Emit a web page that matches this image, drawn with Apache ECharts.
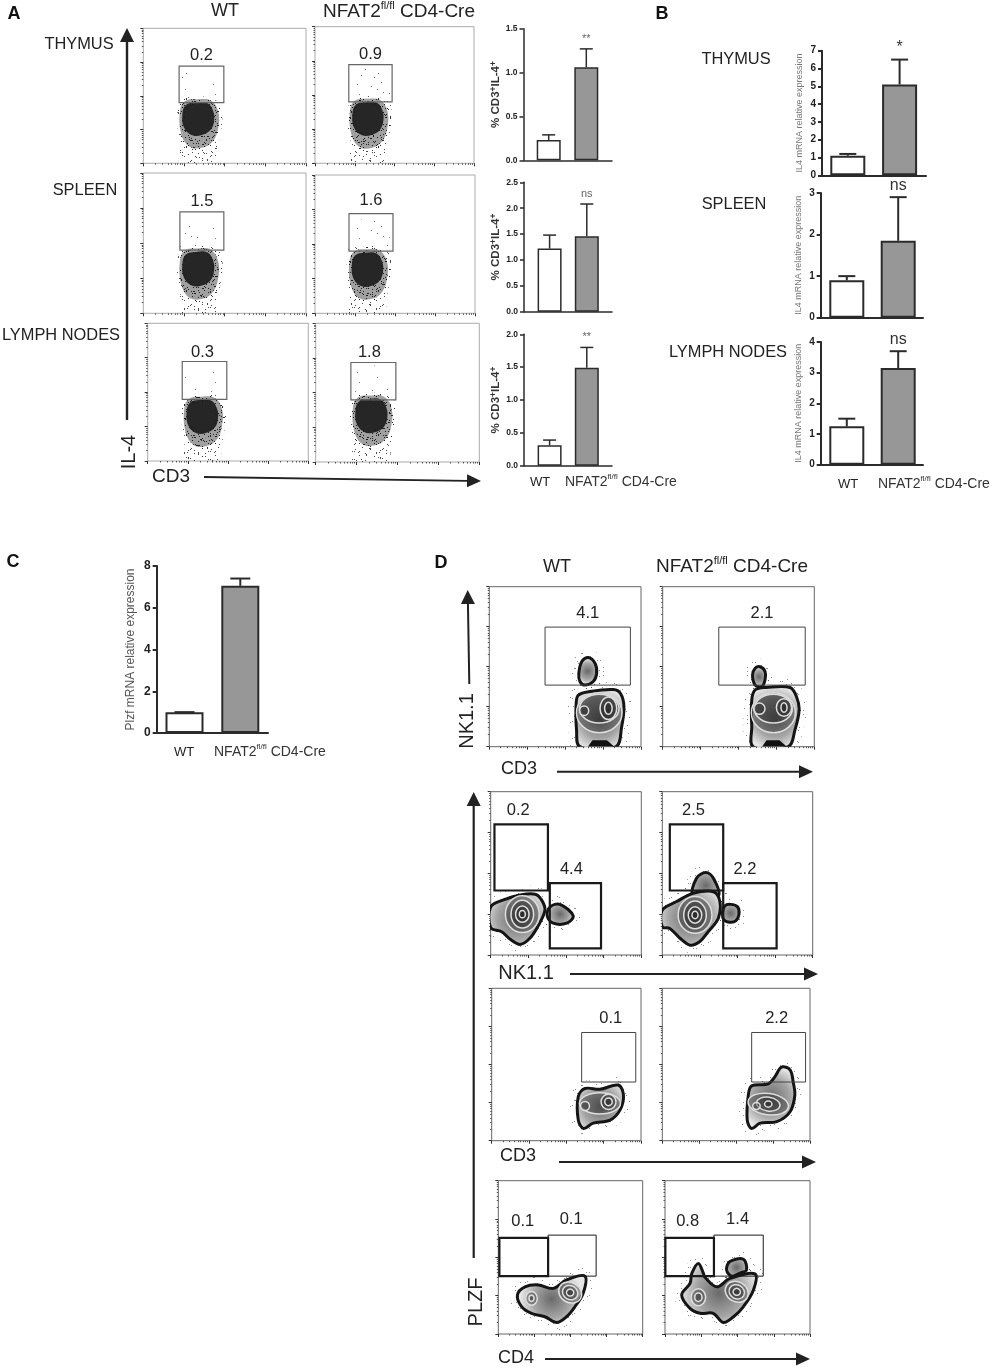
<!DOCTYPE html>
<html>
<head>
<meta charset="utf-8">
<title>NFAT2 figure</title>
<script src="https://cdn.jsdelivr.net/npm/echarts@6/dist/echarts.min.js"></script>
<style>
  html, body { margin: 0; padding: 0; background: #fff; }
  #main { width: 992px; height: 1369px; }
</style>
</head>
<body>
<div id="main"></div>
<script>
// ---------- bar chart values (WT, NFAT2 fl/fl CD4-Cre) ----------
const cd3Il4Thymus = [0.23, 1.06]
const cd3Il4ThymusTop = [0.29, 1.27]
const cd3Il4Spleen = [1.22, 1.46]
const cd3Il4SpleenTop = [1.48, 2.08]
const cd3Il4Nodes = [0.31, 1.49]
const cd3Il4NodesTop = [0.39, 1.80]
const il4Thymus = [1.1, 5.1]
const il4ThymusTop = [1.2, 6.5]
const il4Spleen = [0.9, 1.85]
const il4SpleenTop = [1.0, 2.9]
const il4Nodes = [1.25, 3.15]
const il4NodesTop = [1.5, 3.7]
const plzf = [1.0, 7.05]
const plzfTop = [1.0, 7.4]
const sigA = ['**', 'ns', '**']
const sigB = ['*', 'ns', 'ns']

// ---------- flow plots, panel A: all values in log decades (0-4) ----------
const gatesA = [
  [0.88, 1.98, 1.80, 2.88], [0.85, 1.94, 1.80, 2.89],
  [0.90, 1.98, 1.80, 2.89], [0.85, 1.95, 1.80, 2.88],
  [0.86, 1.97, 1.79, 2.89], [0.86, 1.96, 1.79, 2.87]
]
const gateLabelsA = ['0.2', '0.9', '1.5', '1.6', '0.3', '1.8']
const blobCentresA = [[1.34, 1.34], [1.32, 1.33], [1.34, 1.29], [1.30, 1.29], [1.35, 1.31], [1.35, 1.36]]
// outlines relative to the centre of the population
const blobCore = [[-0.38, 0.1], [-0.3, 0.38], [-0.05, 0.46], [0.24, 0.44], [0.38, 0.2], [0.4, -0.08], [0.32, -0.34], [0.1, -0.5], [-0.15, -0.5], [-0.34, -0.28]]
const blobMid = [[-0.44, 0.2], [-0.32, 0.5], [0, 0.56], [0.32, 0.52], [0.5, 0.2], [0.5, -0.3], [0.36, -0.7], [0.1, -0.88], [-0.2, -0.85], [-0.4, -0.5]]
const blobTail = [[-0.46, 0], [-0.42, -0.6], [-0.42, -1.4], [0.4, -1.4], [0.5, -0.8], [0.6, -0.1], [0.55, 0.45], [0, 0.62], [-0.4, 0.5]]
const blobHaze = [[-0.44, 0.5], [0.55, 0.5], [0.5, 1.1], [0, 1.45], [-0.4, 1.2]]

// ---------- flow plots, panel D ----------
const gatesD = [
  [[1.47, 3.72, 1.54, 2.99]],
  [[1.48, 3.76, 1.54, 2.99]],
  [[0.10, 1.52, 1.58, 3.20], [1.57, 2.93, 0.16, 1.76]],
  [[0.20, 1.62, 1.58, 3.20], [1.62, 3.04, 0.16, 1.76]],
  [[2.41, 3.86, 1.54, 2.84]],
  [[2.42, 3.88, 1.54, 2.84]],
  [[0.03, 1.38, 1.51, 2.51], [1.38, 2.71, 1.51, 2.58]],
  [[0.01, 1.35, 1.51, 2.51], [1.35, 2.71, 1.51, 2.58]]
]
const gateLabelsD = [['4.1'], ['2.1'], ['0.2', '4.4'], ['2.5', '2.2'], ['0.1'], ['2.2'], ['0.1', '0.1'], ['0.8', '1.4']]
const contoursD = [
  [
    [[2.36, 1.83], [2.44, 2.13], [2.61, 2.23], [2.79, 2.08], [2.83, 1.83], [2.74, 1.63], [2.52, 1.54], [2.39, 1.63]],
    [[2.29, 1.08], [2.35, 1.29], [2.65, 1.38], [3.27, 1.43], [3.46, 1.33], [3.55, 1.0], [3.49, 0.5], [3.34, 0], [2.39, 0], [2.30, 0.42]]
  ],
  [
    [[2.37, 1.79], [2.44, 1.96], [2.57, 2.0], [2.70, 1.88], [2.70, 1.67], [2.61, 1.5], [2.44, 1.54]],
    [[2.35, 1.17], [2.44, 1.42], [2.74, 1.48], [3.36, 1.48], [3.53, 1.25], [3.6, 0.92], [3.49, 0.42], [3.31, 0], [2.39, 0], [2.35, 0.5]]
  ],
  [
    [[1.58, 1.18], [1.84, 1.24], [2.19, 0.96], [2.02, 0.78], [1.66, 0.78], [1.50, 0.96]],
    [[0, 1.18], [0.34, 1.35], [0.78, 1.47], [1.18, 1.49], [1.35, 1.35], [1.44, 1.10], [1.27, 0.73], [1.04, 0.41], [0.78, 0.26], [0.51, 0.39], [0.29, 0.57], [0, 0.67]]
  ],
  [
    [[0.82, 1.45], [0.91, 1.88], [1.16, 2.02], [1.36, 1.88], [1.49, 1.45]],
    [[1.6, 1.02], [1.66, 1.2], [1.82, 1.24], [2.0, 1.18], [2.04, 1.0], [1.96, 0.84], [1.8, 0.8], [1.64, 0.86]],
    [[0, 1.10], [0.38, 1.31], [0.82, 1.51], [1.36, 1.55], [1.53, 1.31], [1.49, 0.90], [1.22, 0.57], [1.0, 0.33], [0.74, 0.24], [0.47, 0.41], [0.2, 0.65], [0, 0.69]]
  ],
  [
    [[2.32, 1.16], [2.5, 1.37], [2.9, 1.35], [3.39, 1.46], [3.53, 1.2], [3.44, 0.81], [3.17, 0.54], [2.72, 0.46], [2.46, 0.32], [2.32, 0.54]]
  ],
  [
    [[2.33, 1.2], [2.42, 1.44], [2.87, 1.49], [3.05, 1.68], [3.23, 1.93], [3.46, 1.86], [3.55, 1.51], [3.59, 1.2], [3.46, 0.76], [3.1, 0.5], [2.65, 0.46], [2.42, 0.32], [2.3, 0.54]]
  ],
  [
    [[0.53, 1.02], [0.74, 1.23], [1.11, 1.28], [1.52, 1.19], [1.89, 1.41], [2.4, 1.51], [2.35, 1.06], [2.12, 0.71], [1.89, 0.45], [1.62, 0.30], [1.29, 0.45], [0.92, 0.54], [0.65, 0.71]]
  ],
  [
    [[1.70, 1.67], [1.79, 1.89], [2.16, 1.95], [2.25, 1.67], [2.07, 1.59], [1.84, 1.51]],
    [[0.46, 1.02], [0.69, 1.32], [0.74, 1.58], [0.92, 1.84], [1.06, 1.58], [1.1, 1.48], [1.43, 1.23], [1.79, 1.45], [2.48, 1.57], [2.44, 1.15], [2.16, 0.71], [1.89, 0.45], [1.61, 0.30], [1.33, 0.54], [0.97, 0.54], [0.69, 0.67]]
  ]
]
// black clumps at the axis floor of the first row of contour plots
const floorClumpsD = [
  [[2.6, 0], [2.72, 0.16], [3.1, 0.16], [3.3, 0]],
  [[2.62, 0], [2.74, 0.16], [3.08, 0.16], [3.28, 0]]
]
// contour rings: centre x, centre y, radius x, radius y, tilt (degrees)
const ringsD = [
  [[2.9, 0.85, 0.6, 0.5, 0], [2.9, 0.95, 0.52, 0.36, 0], [3.14, 0.96, 0.22, 0.28, 0], [3.14, 0.96, 0.1, 0.15, 0], [2.5, 0.9, 0.12, 0.12, 0]],
  [[2.92, 0.85, 0.58, 0.5, 0], [2.92, 0.95, 0.5, 0.36, 0], [3.2, 0.98, 0.2, 0.22, 0], [3.2, 0.98, 0.08, 0.12, 0], [2.55, 0.95, 0.15, 0.14, 0]],
  [[0.84, 1.0, 0.45, 0.45, 0], [0.84, 1.0, 0.3, 0.34, 0], [0.84, 1.0, 0.18, 0.2, 0], [0.84, 1.0, 0.08, 0.09, 0]],
  [[0.87, 0.98, 0.45, 0.45, 0], [0.87, 0.98, 0.3, 0.34, 0], [0.87, 0.98, 0.18, 0.2, 0], [0.87, 0.98, 0.08, 0.09, 0]],
  [[2.9, 0.98, 0.55, 0.28, 0], [3.13, 1.02, 0.2, 0.2, 0], [3.13, 1.02, 0.1, 0.1, 0], [2.5, 0.91, 0.12, 0.12, 0]],
  [[2.87, 0.96, 0.55, 0.28, -8], [2.87, 0.96, 0.32, 0.18, -8], [2.87, 0.96, 0.1, 0.08, 0], [2.55, 0.91, 0.1, 0.09, 0]],
  [[0.92, 0.93, 0.16, 0.18, 0], [0.92, 0.93, 0.07, 0.08, 0], [1.99, 1.08, 0.33, 0.26, -30], [1.99, 1.08, 0.22, 0.18, -30], [1.99, 1.08, 0.1, 0.09, -30]],
  [[0.92, 0.96, 0.2, 0.22, 0], [0.92, 0.96, 0.1, 0.11, 0], [1.98, 1.10, 0.33, 0.26, -30], [1.98, 1.10, 0.22, 0.18, -30], [1.98, 1.10, 0.1, 0.09, -30]]
]

// ---------- text ----------
const wtName = 'WT'
const koRich = '{a|NFAT2}{s|fl/fl}{a| CD4-Cre}'
const decadeTicks = [0, 1, 2, 3, 4]
const logSteps = [2, 3, 4, 5, 6, 7, 8, 9]

// ---------- layout: [left, top, width, height] in page pixels ----------
const framesA = [
  [143.3, 28.3, 162.7, 135], [315, 26.7, 159, 136.6],
  [143.3, 173, 162.7, 140.3], [315, 175, 160, 138.3],
  [147.7, 323.3, 160.6, 137.7], [315.7, 323.3, 163.6, 138.7]
]
const hazeDensityA = ['faint', 'sparse', 'sparse', 'sparse', 'faint', 'faint']
const labelShiftA = [0, 0, 0, 0, -2, -4]
const labelGapA = [11, 10, 10, 13, 9, 10]
const framesD = [
  [489.3, 586.7, 151.7, 160], [662.7, 586.7, 151.6, 160],
  [490.7, 791.7, 150.6, 163.3], [662.3, 791.7, 150.4, 163.3],
  [491.7, 988.3, 149.3, 152.4], [662.3, 988.3, 147.7, 152.4],
  [498.3, 1180.7, 144.4, 153.3], [665, 1180.7, 145, 153.3]
]
const gateWeightsD = [[1], [1], [2.2, 2.2], [2.2, 2.2], [1], [1], [2.2, 1], [2.2, 1]]
const labelShiftD = [[0], [0], [-3, -4], [-3, -5], [2], [-2], [-1, -1], [-2, -1]]
const barCharts = [
  { vals: cd3Il4Thymus, tops: cd3Il4ThymusTop, sig: sigA[0], left: 523.5, right: 612, top: 28.7, bottom: 160.3, c: [548.7, 586.3], max: 1.5, step: 0.5, dec: 1, kind: 'a' },
  { vals: cd3Il4Spleen, tops: cd3Il4SpleenTop, sig: sigA[1], left: 524, right: 612, top: 182.3, bottom: 311.7, c: [549.6, 586.8], max: 2.5, step: 0.5, dec: 1, kind: 'a' },
  { vals: cd3Il4Nodes, tops: cd3Il4NodesTop, sig: sigA[2], left: 524, right: 612, top: 334.3, bottom: 465.7, c: [549.6, 586.8], max: 2, step: 0.5, dec: 1, kind: 'a' },
  { vals: il4Thymus, tops: il4ThymusTop, sig: sigB[0], left: 822, right: 926, top: 50.7, bottom: 175.3, c: [847.8, 899.6], max: 7, step: 1, dec: 0, kind: 'b' },
  { vals: il4Spleen, tops: il4SpleenTop, sig: sigB[1], left: 820.7, right: 923, top: 193, bottom: 317.7, c: [846.8, 898.2], max: 3, step: 1, dec: 0, kind: 'b' },
  { vals: il4Nodes, tops: il4NodesTop, sig: sigB[2], left: 820.7, right: 923, top: 342, bottom: 464.7, c: [846.8, 898.2], max: 4, step: 1, dec: 0, kind: 'b' },
  { vals: plzf, tops: plzfTop, sig: '', left: 156.7, right: 268, top: 566, bottom: 733, c: [184.5, 240.3], max: 8, step: 2, dec: 0, kind: 'c' }
]
const barKinds = {
  a: { barW: 24, cap: 13, lw: 1.5, tick: 8.5, name: '{m|% CD3}{s|+}{m|IL-4}{s|+}', gap: 20, nameSize: 11.5, nameBold: 'bold', nameColor: '#333', sigSize: 11, sigColor: '#666', sigGap: 10 },
  b: { barW: 35, cap: 17, lw: 2, tick: 10, name: '{m|IL4 mRNA relative expression}', gap: 15, nameSize: 9, nameBold: 'normal', nameColor: '#777', sigSize: 16, sigColor: '#333', sigGap: 12 },
  c: { barW: 38, cap: 20, lw: 2, tick: 12, name: '{m|Plzf mRNA relative expression}', gap: 19, nameSize: 12, nameBold: 'normal', nameColor: '#555', sigSize: 10, sigColor: '#333', sigGap: 10 }
}

const FONT = '"Liberation Sans", Arial, sans-serif'
const INK = '#2b2b2b'

// stipple texture for the loose events around each population
const tileDots = [[3, 5], [27, 3], [12, 9], [40, 12], [19, 7], [44, 1], [7, 13], [33, 16], [23, 11], [15, 15], [46, 17], [2, 21], [36, 6], [10, 24], [29, 21], [18, 19], [42, 25], [6, 29], [25, 27], [14, 32], [38, 29], [31, 33], [45, 34], [1, 37], [21, 36], [9, 40], [35, 38], [17, 42], [41, 41], [27, 43], [5, 45], [13, 47], [23, 46], [37, 45], [47, 44], [30, 10]]
const tileShifts = [[0, 0], [17, 23], [31, 11], [9, 35], [24, 40], [40, 29], [13, 6], [35, 19]]
function makeTile(step, copies, alpha) {
  const cv = document.createElement('canvas')
  cv.width = 48
  cv.height = 48
  const ctx = cv.getContext('2d')
  ctx.fillStyle = 'rgba(30,30,30,' + alpha + ')'
  tileShifts.slice(0, copies).forEach(s => {
    tileDots.forEach((d, i) => {
      if (i % step === 0) ctx.fillRect((d[0] + s[0]) % 48, (d[1] + s[1]) % 48, 1, 1)
    })
  })
  return { image: cv, repeat: 'repeat' }
}
const tiles = {
  faint: makeTile(4, 1, 0.6),
  sparse: makeTile(2, 1, 0.65),
  halo: makeTile(1, 2, 0.5),
  dense: makeTile(1, 4, 0.8),
  heavy: makeTile(1, 8, 0.95)
}

const grids = []
const xAxes = []
const yAxes = []
const series = []

function logMinorTicks() {
  const out = []
  decadeTicks.slice(0, 4).forEach(d => {
    logSteps.forEach(s => out.push(d + Math.log10(s)))
  })
  return out
}

// one flow plot: framed grid, long decade ticks on one axis pair, short log ticks on another
function addFlowGrid(frame, border) {
  const g = grids.length
  grids.push({ left: frame[0], top: frame[1], width: frame[2], height: frame[3], show: true, borderColor: border, borderWidth: 1, backgroundColor: '#fff' })
  const minor = logMinorTicks()
  const base = { type: 'value', gridIndex: g, min: 0, max: 4, splitLine: { show: false }, axisLine: { show: false }, axisLabel: { show: false } }
  const xi = xAxes.length
  xAxes.push(Object.assign({}, base, { position: 'bottom', axisTick: { show: true, length: 3, lineStyle: { color: '#333' }, customValues: decadeTicks } }))
  xAxes.push(Object.assign({}, base, { position: 'bottom', axisTick: { show: true, length: 1.5, lineStyle: { color: '#555' }, customValues: minor } }))
  const yi = yAxes.length
  yAxes.push(Object.assign({}, base, { position: 'left', axisTick: { show: true, length: 3, lineStyle: { color: '#333' }, customValues: decadeTicks } }))
  yAxes.push(Object.assign({}, base, { position: 'left', axisTick: { show: true, length: 1.5, lineStyle: { color: '#555' }, customValues: minor } }))
  return { xi, yi }
}

function gateSeries(axes, gates, labels, weights, shifts, color, fontSize, labelGap) {
  series.push({
    type: 'custom',
    xAxisIndex: axes.xi,
    yAxisIndex: axes.yi,
    z: 5,
    clip: false,
    silent: true,
    data: gates,
    renderItem: (params, api) => {
      const a = api.coord([api.value(0), api.value(3)])
      const b = api.coord([api.value(1), api.value(2)])
      return {
        type: 'group',
        children: [
          { type: 'rect', shape: { x: a[0], y: a[1], width: b[0] - a[0], height: b[1] - a[1] }, style: { fill: 'none', stroke: color, lineWidth: weights[params.dataIndex] } },
          { type: 'text', x: (a[0] + b[0]) / 2 + shifts[params.dataIndex], y: a[1] - labelGap, style: { text: labels[params.dataIndex], align: 'center', verticalAlign: 'middle', fontSize: fontSize, fontFamily: FONT, fill: '#222' } }
        ]
      }
    }
  })
}

// panel A: dense dot cloud, drawn as nested outlines around a centre
framesA.forEach((frame, i) => {
  const axes = addFlowGrid(frame, '#aaa')
  series.push({
    type: 'custom',
    xAxisIndex: axes.xi,
    yAxisIndex: axes.yi,
    z: 3,
    clip: true,
    silent: true,
    data: [blobCentresA[i]],
    renderItem: (params, api) => {
      const cx = api.value(0)
      const cy = api.value(1)
      const pts = o => o.map(p => api.coord([cx + p[0], cy + p[1]]))
      return {
        type: 'group',
        children: [
          { type: 'polygon', shape: { points: pts(blobHaze), smooth: 0.3 }, style: { fill: tiles[hazeDensityA[i]] } },
          { type: 'polygon', shape: { points: pts(blobTail), smooth: 0.3 }, style: { fill: tiles.dense } },
          { type: 'polygon', shape: { points: pts(blobMid), smooth: 0.4 }, style: { fill: 'rgba(45,45,45,0.45)' } },
          { type: 'polygon', shape: { points: pts(blobMid), smooth: 0.4 }, style: { fill: tiles.heavy, stroke: tiles.dense, lineWidth: 5, lineJoin: 'round' } },
          { type: 'polygon', shape: { points: pts(blobCore), smooth: 0.4 }, style: { fill: '#262626', stroke: tiles.heavy, lineWidth: 5, lineJoin: 'round' } }
        ]
      }
    }
  })
  gateSeries(axes, [gatesA[i]], [gateLabelsA[i]], [1.2], [labelShiftA[i]], '#666', 16.5, labelGapA[i])
})

// panel D: contour plots
framesD.forEach((frame, i) => {
  const axes = addFlowGrid(frame, '#666')
  series.push({
    type: 'custom',
    xAxisIndex: axes.xi,
    yAxisIndex: axes.yi,
    z: 3,
    clip: true,
    silent: true,
    data: contoursD[i].map((c, k) => [k]),
    renderItem: (params, api) => {
      const pts = contoursD[i][api.value(0)].map(p => api.coord(p))
      return {
        type: 'group',
        children: [
          { type: 'polygon', shape: { points: pts, smooth: 0.35 }, style: { fill: 'none', stroke: tiles.halo, lineWidth: 16, lineJoin: 'round' } },
          { type: 'polygon', z2: 2, shape: { points: pts, smooth: 0.35 }, style: { fill: { type: 'radial', x: 0.5, y: 0.5, r: 0.62, colorStops: [{ offset: 0, color: '#6a6a6a' }, { offset: 0.6, color: '#a4a4a4' }, { offset: 1, color: '#e6e6e6' }] }, stroke: '#151515', lineWidth: 3, lineJoin: 'round' } }
        ]
      }
    }
  })
  series.push({
    type: 'custom',
    xAxisIndex: axes.xi,
    yAxisIndex: axes.yi,
    z: 4,
    clip: true,
    silent: true,
    data: ringsD[i],
    renderItem: (params, api) => {
      const c = api.coord([api.value(0), api.value(1)])
      const s = api.size([api.value(2), api.value(3)])
      return {
        type: 'ellipse',
        x: c[0],
        y: c[1],
        rotation: api.value(4) * Math.PI / 180,
        shape: { cx: 0, cy: 0, rx: s[0], ry: s[1] },
        style: { fill: 'rgba(25,25,25,0.34)', stroke: '#dedede', lineWidth: 1.5 }
      }
    }
  })
  if (floorClumpsD[i]) {
    series.push({
      type: 'custom',
      xAxisIndex: axes.xi,
      yAxisIndex: axes.yi,
      z: 4,
      clip: true,
      silent: true,
      data: [[0]],
      renderItem: (params, api) => ({
        type: 'polygon',
        shape: { points: floorClumpsD[i].map(p => api.coord(p)) },
        style: { fill: '#111' }
      })
    })
  }
  gateSeries(axes, gatesD[i], gateLabelsD[i], gateWeightsD[i], labelShiftD[i], i % 4 === 0 || i === 1 || i === 5 ? '#444' : '#1a1a1a', 16.5, i >= 6 ? 16 : 14)
})

// bar charts: value x axis so the two bars sit where they are in the figure
barCharts.forEach(b => {
  const k = barKinds[b.kind]
  const g = grids.length
  const unit = b.c[1] - b.c[0]
  grids.push({ left: b.left, top: b.top, width: b.right - b.left, height: b.bottom - b.top })
  const xi = xAxes.length
  xAxes.push({
    type: 'value', gridIndex: g,
    min: 1 - (b.c[0] - b.left) / unit, max: 2 + (b.right - b.c[1]) / unit,
    splitLine: { show: false }, axisTick: { show: false }, axisLabel: { show: false },
    axisLine: { show: true, onZero: false, lineStyle: { color: INK, width: k.lw } }
  })
  const yi = yAxes.length
  yAxes.push({
    type: 'value', gridIndex: g, min: 0, max: b.max, interval: b.step,
    splitLine: { show: false },
    axisLine: { show: true, lineStyle: { color: INK, width: k.lw } },
    axisTick: { show: true, length: 4, lineStyle: { color: INK, width: k.lw } },
    axisLabel: { fontFamily: FONT, fontSize: k.tick, fontWeight: 'bold', color: '#222', margin: 6, formatter: v => v.toFixed(b.dec) },
    name: k.name,
    nameLocation: 'middle',
    nameRotate: 90,
    nameGap: k.gap,
    nameTextStyle: {
      rich: {
        m: { fontFamily: FONT, fontSize: k.nameSize, fontWeight: k.nameBold, color: k.nameColor, lineHeight: 14 },
        s: { fontFamily: FONT, fontSize: k.nameSize - 3, fontWeight: k.nameBold, color: k.nameColor, verticalAlign: 'top' }
      }
    }
  })
  series.push({
    type: 'bar',
    xAxisIndex: xi,
    yAxisIndex: yi,
    barWidth: k.barW,
    z: 2,
    silent: true,
    data: b.vals.map((v, i) => ({
      value: [i + 1, v],
      itemStyle: { color: i === 0 ? '#fff' : '#979797', borderColor: INK, borderWidth: k.lw }
    }))
  })
  series.push({
    type: 'custom',
    xAxisIndex: xi,
    yAxisIndex: yi,
    z: 1,
    clip: false,
    silent: true,
    data: b.vals.map((v, i) => [i + 1, v, b.tops[i]]),
    renderItem: (params, api) => {
      const base = api.coord([api.value(0), api.value(1)])
      const top = api.coord([api.value(0), api.value(2)])
      const line = { stroke: INK, lineWidth: k.lw }
      const children = [
        { type: 'line', shape: { x1: base[0], y1: base[1], x2: top[0], y2: top[1] }, style: line },
        { type: 'line', shape: { x1: top[0] - k.cap / 2, y1: top[1], x2: top[0] + k.cap / 2, y2: top[1] }, style: line }
      ]
      if (params.dataIndex === 1 && b.sig) {
        children.push({ type: 'text', x: top[0], y: top[1] - k.sigGap, style: { text: b.sig, align: 'center', verticalAlign: 'middle', fontFamily: FONT, fontSize: k.sigSize, fill: k.sigColor } })
      }
      return { type: 'group', children }
    }
  })
})

// ---------- free text and arrows ----------
function label(text, x, y, size, extra) {
  return {
    type: 'text', x, y, rotation: (extra && extra.rotation) || 0, silent: true,
    style: {
      text, align: (extra && extra.align) || 'center', verticalAlign: 'middle',
      fontFamily: FONT, fontSize: size, fontWeight: (extra && extra.weight) || 'normal', fill: (extra && extra.color) || '#222'
    }
  }
}
function koLabel(x, y, size, color) {
  return {
    type: 'text', x, y, silent: true,
    style: {
      text: koRich, align: 'left', verticalAlign: 'middle', fill: color,
      rich: {
        a: { fontFamily: FONT, fontSize: size, fill: color, color: color, lineHeight: size + 4 },
        s: { fontFamily: FONT, fontSize: Math.round(size * 0.6), fill: color, color: color, verticalAlign: 'top' }
      }
    }
  }
}
function arrow(x1, y1, x2, y2, headLen, headHalf, width) {
  const ang = Math.atan2(y2 - y1, x2 - x1)
  const bx = x2 - headLen * Math.cos(ang)
  const by = y2 - headLen * Math.sin(ang)
  const nx = -Math.sin(ang) * headHalf
  const ny = Math.cos(ang) * headHalf
  return [
    { type: 'line', silent: true, shape: { x1, y1, x2: bx, y2: by }, style: { stroke: '#222', lineWidth: width } },
    { type: 'polygon', silent: true, shape: { points: [[x2, y2], [bx + nx, by + ny], [bx - nx, by - ny]] }, style: { fill: '#222' } }
  ]
}
const vertical = { rotation: Math.PI / 2 }
const graphicElements = [
  label('A', 14, 14, 18, { weight: 'bold', color: '#111' }),
  label('B', 662, 14, 18, { weight: 'bold', color: '#111' }),
  label('C', 13, 562, 18, { weight: 'bold', color: '#111' }),
  label('D', 441, 563, 18, { weight: 'bold', color: '#111' }),
  label(wtName, 225, 11, 18),
  koLabel(323, 12, 19, '#222'),
  label('THYMUS', 79, 44, 16.4),
  label('SPLEEN', 85, 190, 16.4),
  label('LYMPH NODES', 61, 335, 16.4),
  label('THYMUS', 736, 59, 16.4),
  label('SPLEEN', 734, 204, 16.4),
  label('LYMPH NODES', 728, 352, 16.4),
  label(wtName, 540, 482, 13),
  koLabel(565, 482, 14, '#333'),
  label(wtName, 848, 484, 13),
  koLabel(878, 484, 14, '#333'),
  label(wtName, 184, 752, 13),
  koLabel(214, 752, 14, '#333'),
  label(wtName, 557, 567, 18),
  koLabel(656, 567, 19, '#222'),
  label('IL-4', 129, 452, 20, vertical),
  label('CD3', 171, 477, 19),
  label('NK1.1', 467, 721, 20, vertical),
  label('CD3', 519, 769, 18),
  label('NK1.1', 526, 973, 20),
  label('CD3', 518, 1156, 18),
  label('PLZF', 476, 1302, 20, vertical),
  label('CD4', 516, 1358, 18)
].concat(
  arrow(127, 420, 127, 28, 14, 7, 2.4),
  arrow(204, 477, 481, 481, 14, 6.5, 1.8),
  arrow(469.3, 684, 467.7, 590, 14, 7, 2),
  arrow(557, 771.7, 813, 771.7, 14, 6.5, 2),
  arrow(473.7, 1258, 473.7, 792, 14, 7, 2.2),
  arrow(570, 974, 818, 974, 14, 6.5, 2),
  arrow(559, 1162, 816, 1162, 14, 6.5, 2),
  arrow(545, 1359, 810, 1359, 14, 6.5, 2)
)

const chart = echarts.init(document.getElementById('main'), null, { renderer: 'canvas' })
chart.setOption({
  animation: false,
  backgroundColor: '#fff',
  textStyle: { fontFamily: FONT },
  grid: grids,
  xAxis: xAxes,
  yAxis: yAxes,
  series: series,
  graphic: { elements: graphicElements }
})
</script>
</body>
</html>
